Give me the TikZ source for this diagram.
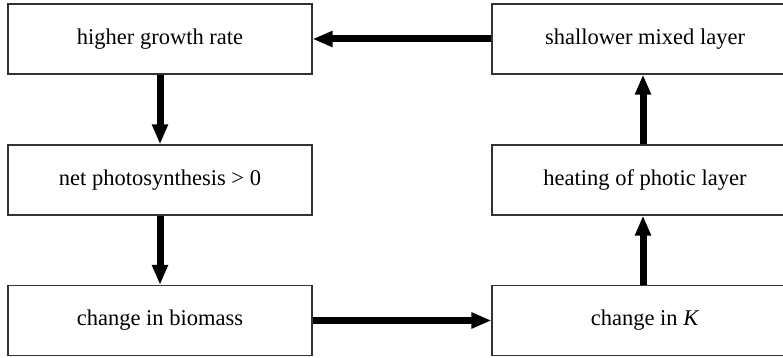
\documentclass[tikz,border=0pt]{standalone}
\usepackage{fontspec}
\setmainfont{Liberation Serif}
\usetikzlibrary{arrows.meta}
\begin{document}
\begin{tikzpicture}[x=1pt,y=1pt,
  box/.style={draw=black!80, line width=1.1pt, fill=white, minimum width=304pt, minimum height=70pt, inner sep=0pt,
    font=\fontsize{22.5}{27}\selectfont},
  flow/.style={line width=7pt, -{Triangle[width=15pt,length=20pt]}}]
\useasboundingbox (0,0) rectangle (783,-358);
\clip (0,0) rectangle (783,-358);
\fill[white] (0,0) rectangle (783,-358);
\node[box] (hgr) at (160,-39) {higher growth rate};
\node[box] (nps) at (160,-180) {net photosynthesis > 0};
\node[box] (cib) at (160,-320.5) {change in biomass};
\node[box, minimum width=306pt] (sml) at (645,-39) {shallower mixed layer};
\node[box, minimum width=306pt] (hpl) at (645,-180) {heating of photic layer};
\node[box, minimum width=306pt] (cik) at (645,-320.5) {change in \textit{K}};
\draw[flow] (hgr.south) -- (nps.north);
\draw[flow] (nps.south) -- (cib.north);
\draw[flow] (cib.east) -- (cik.west);
\draw[flow] ([xshift=-2pt]cik.north) -- ([xshift=-2pt]hpl.south);
\draw[flow] ([xshift=-2pt]hpl.north) -- ([xshift=-2pt]sml.south);
\draw[flow] (sml.west) -- (hgr.east);
\end{tikzpicture}
\end{document}
